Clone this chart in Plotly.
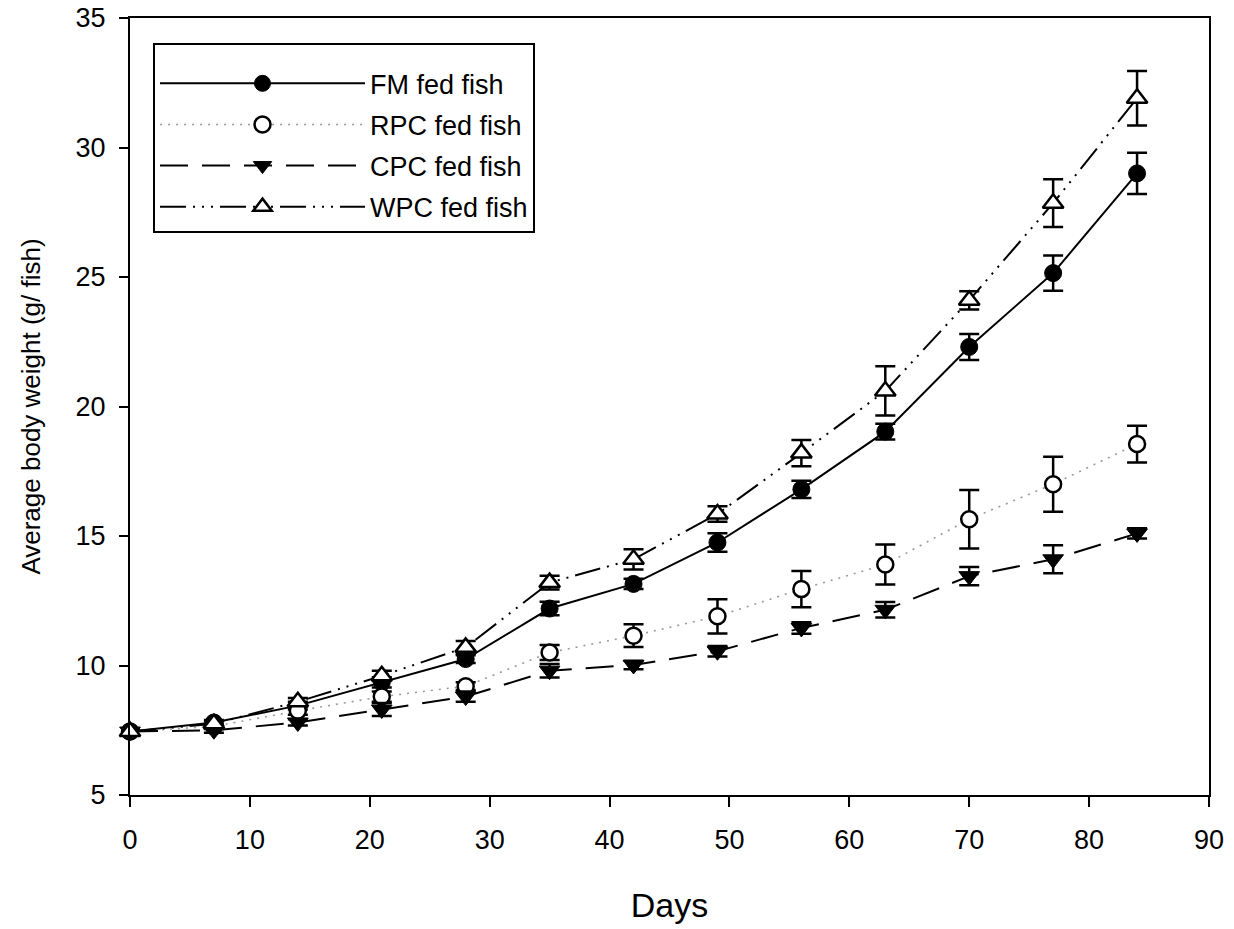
import plotly.graph_objects as go

days = [0, 7, 14, 21, 28, 35, 42, 49, 56, 63, 70, 77, 84]

fm = [7.45, 7.8, 8.45, 9.35, 10.25, 12.2, 13.15, 14.75, 16.8, 19.03, 22.3, 25.15, 29.0]
fm_err = [0.1, 0.1, 0.15, 0.2, 0.15, 0.26, 0.2, 0.36, 0.33, 0.3, 0.5, 0.68, 0.8]

rpc = [7.45, 7.65, 8.25, 8.8, 9.2, 10.5, 11.15, 11.9, 12.95, 13.9, 15.65, 17.0, 18.55]
rpc_err = [0.1, 0.1, 0.15, 0.2, 0.15, 0.29, 0.44, 0.66, 0.7, 0.77, 1.13, 1.06, 0.71]

cpc = [7.45, 7.5, 7.8, 8.3, 8.8, 9.8, 10.02, 10.55, 11.45, 12.15, 13.45, 14.1, 15.1]
cpc_err = [0.1, 0.1, 0.12, 0.25, 0.2, 0.26, 0.16, 0.2, 0.22, 0.3, 0.35, 0.54, 0.2]

wpc = [7.45, 7.75, 8.6, 9.6, 10.7, 13.2, 14.1, 15.85, 18.2, 20.6, 24.1, 27.85, 31.9]
wpc_err = [0.1, 0.1, 0.15, 0.2, 0.25, 0.27, 0.39, 0.3, 0.51, 0.95, 0.35, 0.92, 1.05]

names = ["FM fed fish", "RPC fed fish", "CPC fed fish", "WPC fed fish"]

FONT = "Liberation Sans, Arial, sans-serif"

def err(vals):
    return dict(type="data", array=vals, visible=True, color="black",
                thickness=2.5, width=10)

fig = go.Figure()

fig.add_trace(go.Scatter(
    x=days, y=fm, name=names[0], mode="lines+markers", legendgroup="a",
    line=dict(color="black", width=2, dash="solid"),
    marker=dict(symbol="circle", size=17, color="black",
                line=dict(color="black", width=1)),
    error_y=err(fm_err), cliponaxis=False))

fig.add_trace(go.Scatter(
    x=days, y=rpc, name=names[1], mode="lines+markers", legendgroup="b",
    line=dict(color="#9a9a9a", width=1.6, dash="2px,6px"),
    marker=dict(symbol="circle", size=16, color="white",
                line=dict(color="black", width=2.5)),
    error_y=err(rpc_err), cliponaxis=False))

fig.add_trace(go.Scatter(
    x=days, y=cpc, name=names[2], mode="lines+markers", legendgroup="c",
    line=dict(color="black", width=2, dash="28px,14px"),
    marker=dict(symbol="triangle-down", size=18, color="black",
                line=dict(color="black", width=1)),
    error_y=err(cpc_err), cliponaxis=False))

fig.add_trace(go.Scatter(
    x=days, y=wpc, name=names[3], mode="lines+markers", legendgroup="d",
    line=dict(color="black", width=2, dash="26px,7px,2px,7px,2px,7px,2px,7px"),
    marker=dict(symbol="triangle-up", size=18, color="white",
                line=dict(color="black", width=2.5)),
    error_y=err(wpc_err), cliponaxis=False))

fig.update_layout(
    width=1234, height=929,
    margin=dict(l=130, r=25, t=18, b=134, autoexpand=False),
    paper_bgcolor="white", plot_bgcolor="white",
    font=dict(family=FONT, size=27, color="black"),
    showlegend=True,
    legend=dict(
        x=(153 - 130) / 1079, y=1 - (43 - 18) / 777,
        xanchor="left", yanchor="top",
        bgcolor="white", bordercolor="black", borderwidth=2,
        font=dict(family=FONT, size=27, color="black"),
        title=dict(text=" ", font=dict(size=11)),
        itemwidth=205, tracegroupgap=3,
    ),
    xaxis=dict(
        range=[0, 90], dtick=10, tick0=0,
        showgrid=False, zeroline=False,
        showline=True, linecolor="black", linewidth=2, mirror=True,
        ticks="outside", ticklen=10, tickwidth=2, tickcolor="black",
        ticklabelstandoff=10,
        tickfont=dict(family=FONT, size=27),
        title=dict(text="Days", font=dict(family=FONT, size=34), standoff=39),
    ),
    yaxis=dict(
        range=[5, 35], dtick=5, tick0=5,
        showgrid=False, zeroline=False,
        showline=True, linecolor="black", linewidth=2, mirror=True,
        ticks="outside", ticklen=9, tickwidth=2, tickcolor="black",
        ticklabelstandoff=8,
        tickfont=dict(family=FONT, size=27),
        title=dict(text="Average body weight (g/ fish)",
                   font=dict(family=FONT, size=26), standoff=27),
    ),
)

fig.write_html("out.html")
